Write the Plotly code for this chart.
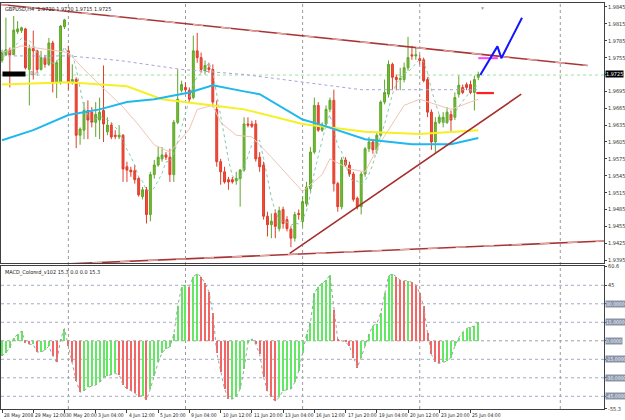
import plotly.graph_objects as go
import pandas as pd

# ---------------- DATA (prices in pips: price * 10000) ----------------
opens = [19750,19760,19769,19760,19801,19803,19806,19734,19771,19767,
         19734,19755,19743,19781,19711,19711,19810,19767,19711,19716,
         19617,19626,19661,19658,19640,19644,19661,19623,19635,19617,
         19614,19617,19561,19555,19554,19540,19508,19520,19476,19547,
         19564,19575,19582,19578,19547,19640,19697,19702,19697,19684,
         19767,19755,19732,19737,19734,19663,19570,19552,19538,19538,
         19536,19540,19555,19637,19637,19637,19578,19564,19473,19458,
         19478,19451,19485,19467,19450,19434,19478,19464,19495,19522,
         19587,19670,19626,19637,19663,19679,19531,19490,19573,19564,
         19548,19505,19490,19548,19593,19605,19591,19617,19676,19690,
         19743,19720,19716,19716,19737,19760,19758,19753,19751,19716,
         19658,19605,19640,19640,19640,19654,19649,19690,19702,19707,
         19707,19693,19720]
highs = [19769,19826,19773,19829,19820,19810,19808,19778,19803,19769,
         19767,19760,19790,19785,19750,19813,19824,19776,19743,19720,
         19631,19676,19679,19667,19676,19684,19741,19649,19640,19626,
         19635,19619,19570,19561,19564,19543,19525,19525,19552,19573,
         19596,19596,19587,19593,19644,19734,19714,19711,19702,19794,
         19799,19764,19750,19746,19743,19679,19575,19561,19543,19543,
         19552,19557,19649,19649,19643,19644,19587,19570,19481,19478,
         19485,19490,19490,19473,19455,19481,19485,19508,19534,19596,
         19684,19676,19640,19670,19684,19698,19534,19578,19578,19570,
         19552,19508,19552,19596,19614,19610,19623,19679,19716,19750,
         19746,19725,19737,19746,19792,19776,19773,19760,19755,19720,
         19663,19649,19654,19658,19667,19661,19693,19723,19707,19711,
         19714,19723,19730]
lows = [19746,19758,19702,19760,19797,19799,19734,19670,19716,19728,
        19732,19737,19740,19693,19683,19707,19806,19698,19707,19594,
        19600,19610,19610,19631,19614,19610,19605,19617,19610,19610,
        19610,19534,19534,19543,19531,19508,19503,19460,19464,19540,
        19561,19570,19573,19534,19534,19637,19693,19693,19676,19681,
        19746,19728,19725,19728,19667,19561,19529,19531,19520,19531,
        19529,19490,19552,19631,19630,19570,19552,19467,19437,19434,
        19434,19446,19451,19446,19418,19428,19467,19455,19490,19517,
        19584,19623,19623,19631,19658,19517,19481,19485,19561,19543,
        19499,19485,19476,19543,19587,19584,19584,19614,19672,19684,
        19697,19697,19697,19711,19732,19751,19751,19743,19711,19649,
        19591,19584,19637,19631,19637,19623,19644,19684,19690,19697,
        19690,19661,19715]
closes = [19764,19769,19760,19804,19806,19808,19737,19771,19767,19734,
          19755,19743,19781,19711,19746,19811,19822,19711,19716,19617,
          19628,19661,19644,19640,19654,19658,19637,19635,19614,19615,
          19617,19557,19555,19552,19538,19511,19520,19476,19547,19564,
          19578,19582,19578,19547,19640,19681,19707,19698,19681,19767,
          19755,19734,19741,19734,19676,19570,19552,19534,19534,19534,
          19540,19555,19637,19635,19633,19575,19561,19473,19458,19464,
          19455,19483,19460,19451,19434,19476,19476,19499,19525,19587,
          19670,19626,19631,19663,19679,19531,19490,19573,19564,19548,
          19503,19490,19548,19593,19605,19591,19617,19676,19693,19743,
          19720,19716,19718,19737,19755,19758,19760,19750,19714,19658,
          19605,19640,19649,19649,19658,19644,19684,19706,19693,19702,
          19693,19716,19725]

macd = [-12.3,-9.6,-5.6,2.4,5.1,7.8,-1.6,-2.9,-2.9,-9.1,
        -9.1,-7.5,-4.3,-12.3,-17.6,1.1,9.9,-4.3,-17.6,-32.4,
        -41.7,-40.4,-37.7,-36.9,-35.8,-33.7,-29.7,-28.3,-27.5,-26.5,
        -27.5,-35.8,-39.0,-40.4,-42.5,-45.2,-44.4,-47.9,-39.0,-28.3,
        -17.6,-9.6,-6.4,-4.8,5.1,27.8,43.9,45.2,43.9,51.9,
        54.5,51.9,46.5,39.8,22.5,-9.6,-25.7,-39.0,-47.1,-47.1,
        -45.7,-39.0,-23.0,-1.6,1.6,-2.9,-11.0,-29.7,-40.4,-45.7,
        -49.2,-45.7,-40.4,-39.8,-39.0,-33.7,-24.3,-9.6,5.1,14.4,
        38.5,43.9,46.5,49.2,53.2,25.1,1.1,0.0,-1.0,-4.3,
        -13.6,-21.7,-13.6,-4.3,5.1,12.3,13.9,22.5,38.5,52.4,
        54.5,51.9,49.2,48.7,48.7,47.3,45.2,38.5,27.8,6.4,
        -11.0,-17.6,-18.4,-17.6,-16.3,-13.6,-4.3,2.4,7.2,9.9,
        11.2,11.8,15.0]

# moving averages (bar index, pips)
yellow_idx = [0,17,32,41,54,62,77,93,107,122]
yellow_val = [19707,19711,19704,19681,19670,19663,19637,19623,19619,19626]
cyan_idx = [0,8,17,25,32,39,48,54,62,66,77,82,93,105,115,122]
cyan_val = [19608,19626,19653,19663,19676,19681,19693,19706,19695,19690,19645,19635,19610,19601,19601,19612]
lav_idx = [0,17,30,46,62,77,92,122]
lav_val = [19758,19758,19750,19734,19725,19711,19698,19698]
salmon_idx = [0,5,17,21,31,35,39,43,48,50,54,56,60,64,69,74,77,82,84,89,93,97,103,107,111,115,120,122]
salmon_val = [19764,19776,19764,19734,19667,19635,19600,19587,19628,19663,19670,19640,19617,19614,19578,19540,19517,19547,19575,19557,19552,19605,19670,19681,19672,19663,19676,19681]

# drawn objects (bar index, pips)
down_idx, down_val = [-1, 150], [19850, 19741]
up_idx, up_val = [73.7, 133], [19407, 19690]
bot_idx, bot_val = [15.9, 154.3], [19388, 19429]
zig_idx = [122.5, 126.9, 127.9, 133.2]
zig_val = [19724, 19775, 19754, 19826]
mag_idx, mag_val = [122, 127], [19754, 19754]
red_idx, red_val = [121.5, 126], [19692, 19692]
bid_line = 19724
buy_level = 19726

price_ticks = [19395,19425,19455,19485,19515,19545,19575,19605,19635,19665,
               19695,19725,19755,19785,19815,19845]
last_price = 19725
macd_levels = [45, 30, 15, 0, -15, -30, -45]
macd_boxed = [30, 15, 0, -15, -30, -45]
macd_plain = [60.6, 45, -55.3]
week_grid = [17, 47, 77, 107, 143]
label_idx = [0,8,16,24,32,40,48,56,64,72,80,88,96,104,112,120]
label_txt = ["28 May 2008","29 May 12:00","30 May 20:00","3 Jun 04:00","4 Jun 12:00",
             "5 Jun 20:00","9 Jun 04:00","10 Jun 12:00","11 Jun 20:00","13 Jun 04:00",
             "16 Jun 12:00","17 Jun 20:00","19 Jun 04:00","20 Jun 12:00","23 Jun 20:00",
             "25 Jun 04:00"]
header = "GBPUSD,H4  1.9720 1.9730 1.9715 1.9725"
macd_title = "MACD_Colored_v102 15.3 0.0 0.0 15.3"

# ---------------- FIGURE ----------------
P = lambda vals: [v / 10000 for v in vals]
idx = list(range(len(closes)))
FONT = "Liberation Sans"
NARROW = "Liberation Sans Narrow, DejaVu Sans Condensed, Liberation Sans"

fig = go.Figure()

for g in week_grid:
    fig.add_shape(type="line", xref="x", yref="paper", x0=g, x1=g, y0=0, y1=1,
                  line=dict(color="#9a9a9a", width=1, dash="dot"), layer="below")

fig.add_shape(type="line", xref="paper", yref="y", x0=0, x1=1, y0=bid_line/10000, y1=bid_line/10000,
              line=dict(color="#9ee09e", width=1, dash="dot"), layer="below")

for lv in macd_levels:
    fig.add_shape(type="line", xref="paper", yref="y2", x0=0, x1=1, y0=lv, y1=lv,
                  line=dict(color="#a3abc2" if lv != 0 else "#a0a0a0", width=1, dash="dot"),
                  layer="below")

def line(xs, ys, color, width=1, dash=None, yaxis="y", xaxis="x"):
    fig.add_trace(go.Scatter(x=xs, y=ys, mode="lines", xaxis=xaxis, yaxis=yaxis,
                             line=dict(color=color, width=width, dash=dash),
                             hoverinfo="skip", showlegend=False))

line(lav_idx, P(lav_val), "#a9a2dc", 1, "dot")
line(salmon_idx, P(salmon_val), "#f0c4b4", 1, None)
fast = pd.Series(closes).rolling(5, min_periods=1).mean().tolist()
line(idx, P(fast), "#86c8b0", 1, "dot")
line(yellow_idx, P(yellow_val), "#f5f023", 2)
line(cyan_idx, P(cyan_val), "#1fb8ee", 2)

fig.add_trace(go.Candlestick(
    x=idx, open=P(opens), high=P(highs), low=P(lows), close=P(closes),
    xaxis="x", yaxis="y",
    increasing=dict(line=dict(color="#5fa52a", width=1), fillcolor="#74bd32"),
    decreasing=dict(line=dict(color="#e23c2b", width=1), fillcolor="#ef4d3a"),
    whiskerwidth=0, showlegend=False, hoverinfo="skip"))

line(down_idx, P(down_val), "#a83434", 1.6)
line(down_idx, P(down_val), "#e8a8a8", 1.2, "10px,18px")
line(up_idx, P(up_val), "#a52e2e", 1.6)
line(bot_idx, P(bot_val), "#a83434", 1.6)
line(bot_idx, P(bot_val), "#e8a8a8", 1.2, "10px,18px")
line(mag_idx, P(mag_val), "#ff3cff", 2)
line(red_idx, P(red_val), "#ff2020", 2.2)
line(zig_idx, P(zig_val), "#1414ff", 2)

cols = []
for k, v in enumerate(macd):
    prev = macd[k - 1] if k > 0 else v
    cols.append("#62e862" if v >= prev else "#f46666")
fig.add_trace(go.Bar(x=idx, y=macd, xaxis="x2", yaxis="y2", width=0.26,
                     marker=dict(color=cols, line=dict(width=0)),
                     showlegend=False, hoverinfo="skip"))
line(idx, macd, "#a0a0a0", 1, "dot", yaxis="y2", xaxis="x2")

ann = []
ann.append(dict(text=header, xref="paper", yref="paper", x=0, y=1, xanchor="left", yanchor="top",
                xshift=2, yshift=-1, showarrow=False, font=dict(size=5.5, color="#202020", family=NARROW)))
ann.append(dict(text=macd_title, xref="paper", yref="paper", x=0, y=0.3521, xanchor="left",
                yanchor="top", xshift=2, yshift=-1, showarrow=False,
                font=dict(size=5.5, color="#202020", family=NARROW)))
ann.append(dict(text="&nbsp;", xref="x", yref="y", x=-0.1, y=buy_level/10000, xanchor="left",
                yanchor="middle", showarrow=False, bgcolor="#000000", width=22, height=4,
                font=dict(size=4), borderpad=0))
ann.append(dict(text="Buy", xref="x", yref="y", x=6.6, y=buy_level/10000, xanchor="left",
                yanchor="middle", showarrow=False, font=dict(size=5, color="#808080", family=NARROW)))
ann.append(dict(text="%.4f" % (last_price/10000), xref="paper", yref="y", x=1, y=last_price/10000,
                xanchor="left", yanchor="middle", xshift=1, showarrow=False, bgcolor="#000000",
                font=dict(size=5.5, color="#ffffff", family=NARROW), borderpad=0))
for lv in macd_boxed:
    ann.append(dict(text="%.4f" % lv, xref="paper", yref="y2", x=1, y=lv, xanchor="left",
                    yanchor="middle", xshift=1, showarrow=False, bgcolor="#8a94a9",
                    font=dict(size=5, color="#f4f6fa", family=NARROW), borderpad=0))
for i, t in zip(label_idx, label_txt):
    ann.append(dict(text=t, xref="x2", yref="paper", x=i, y=0, xanchor="left", yanchor="top",
                    yshift=-1, xshift=0, showarrow=False,
                    font=dict(size=5, color="#202020", family=NARROW)))
ann.append(dict(text="▼", xref="x", yref="paper", x=123.2, y=1, xanchor="center", yanchor="top",
                showarrow=False, font=dict(size=5, color="#a0a0a0")))

price_text = ["" if v == last_price else "%.4f" % (v / 10000) for v in price_ticks]

fig.update_layout(
    width=625, height=420, margin=dict(l=0, r=21, t=0, b=11),
    paper_bgcolor="white", plot_bgcolor="white", showlegend=False,
    bargap=0, annotations=ann,
    xaxis=dict(domain=[0, 1], anchor="y", range=[-0.26, 154.2], showticklabels=False,
               showgrid=False, zeroline=False, showline=True, mirror=True,
               linecolor="#404040", linewidth=1, rangeslider=dict(visible=False), ticks=""),
    xaxis2=dict(domain=[0, 1], anchor="y2", matches="x", showticklabels=False,
                showgrid=False, zeroline=False, showline=True, mirror=True,
                linecolor="#404040", linewidth=1, tickmode="array", tickvals=label_idx,
                ticks="outside", ticklen=3, tickcolor="#404040"),
    yaxis=dict(domain=[0.3594, 1], range=[1.93897, 1.98521], side="right",
               tickmode="array", tickvals=P(price_ticks), ticktext=price_text,
               ticks="outside", ticklen=2, tickcolor="#404040",
               tickfont=dict(size=5.5, color="#303030", family=NARROW),
               showgrid=False, zeroline=False, showline=True, mirror=True,
               linecolor="#404040", linewidth=1),
    yaxis2=dict(domain=[0, 0.3521], range=[-55.3, 60.6], side="right",
                tickmode="array", tickvals=macd_plain + macd_boxed,
                ticktext=[("%g" % v) for v in macd_plain] + [""] * len(macd_boxed),
                ticks="outside", ticklen=2, tickcolor="#404040",
                tickfont=dict(size=5.5, color="#303030", family=NARROW),
                showgrid=False, zeroline=False, showline=True, mirror=True,
                linecolor="#404040", linewidth=1),
)

fig.write_html("out.html")
